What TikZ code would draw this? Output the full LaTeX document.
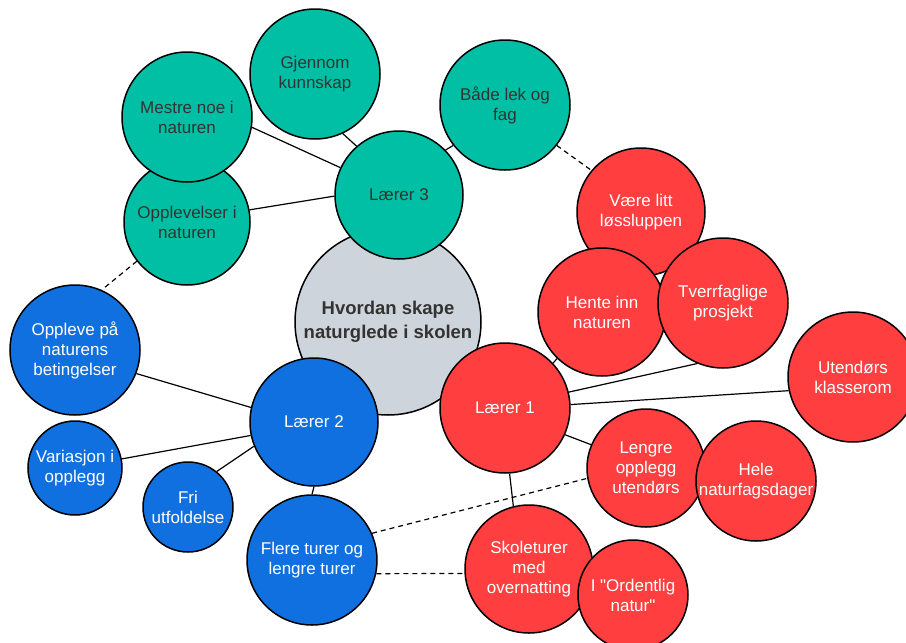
\documentclass[tikz,border=0pt]{standalone}
\usepackage{fontspec}
\setmainfont{Liberation Sans}[Ligatures=TeXOff]
\definecolor{teal1}{HTML}{00BFA5}
\definecolor{blue1}{HTML}{1170E0}
\definecolor{red1}{HTML}{FF3E40}
\definecolor{grey1}{HTML}{CED4DC}
\definecolor{dark1}{HTML}{333333}
\tikzset{
  bub/.style={circle, draw=black, line width=1.5pt, inner sep=0pt, align=center,
    font=\fontsize{17}{20}\selectfont, minimum size=#1},
  tbub/.style={bub=#1, fill=teal1, text=dark1},
  bbub/.style={bub=#1, fill=blue1, text=white},
  rbub/.style={bub=#1, fill=red1, text=white},
  link/.style={draw=black, line width=1.2pt},
  dlink/.style={draw=black, line width=1.2pt, dash pattern=on 5pt off 4pt}
}
\begin{document}
\begin{tikzpicture}[x=1pt,y=-1pt]
\useasboundingbox (0,0) rectangle (906,643);
% center
\node[bub=186pt, fill=grey1, text=dark1, font=\fontsize{18.5}{24}\selectfont\bfseries] (c) at (388,322) {Hvordan skape\\naturglede i skolen};
% teacher 3 group
\node[tbub=128pt] (l3) at (399,195) {Lærer 3};
\node[tbub=130pt] (gj) at (315,74) {Gjennom\\kunnskap};
\node[tbub=126pt] (op) at (187,222) {Opplevelser i\\naturen};
\node[tbub=130pt] (me) at (187,117) {Mestre noe i\\naturen};
\node[tbub=130pt] (bl) at (505,105) {Både lek og\\fag};
% teacher 2 group
\node[bbub=128pt] (l2) at (314,422) {Lærer 2};
\node[bbub=130pt] (ob) at (75,350) {Oppleve på\\naturens\\betingelser};
\node[bbub=94pt] (va) at (75,468) {Variasjon i\\opplegg};
\node[bbub=90pt] (fr) at (188,507) {Fri\\utfoldelse};
\node[bbub=130pt] (fl) at (312,560) {Flere turer og\\lengre turer};
% teacher 1 group
\node[rbub=130pt] (l1) at (505,408) {Lærer 1};
\node[rbub=128pt] (vl) at (641,212) {Være litt\\løssluppen};
\node[rbub=128pt] (hi) at (602,312) {Hente inn\\naturen};
\node[rbub=130pt] (tv) at (723,303) {Tverrfaglige\\prosjekt};
\node[rbub=130pt] (ut) at (853,377) {Utendørs\\klasserom};
\node[rbub=118pt] (lo) at (646,468) {Lengre\\opplegg\\utendørs};
\node[rbub=120pt] (hn) at (756,481) {Hele\\naturfagsdager};
\node[rbub=128pt] (sk) at (529,569) {Skoleturer\\med\\overnatting};
\node[rbub=110pt] (io) at (633,595) {I "Ordentlig\\natur"};
% connectors
\draw[link] (l3.131) -- (gj.295);
\draw[link] (l3.155) -- (me.351);
\draw[link] (l3.181) -- (op.11);
\draw[link] (l3.44) -- (bl.218);
\draw[dlink] (bl.322) -- (vl.140);
\draw[dlink] (op.218) -- (ob.66);
\draw[link] (l1.43) -- (hi.226);
\draw[link] (l1.14) -- (tv.247);
\draw[link] (l1.3) -- (ut.192);
\draw[link] (l1.336) -- (lo.157);
\draw[link] (l1.274) -- (sk.104);
\draw[dlink] (fl.24) -- (lo.190);
\draw[dlink] (fl.348) -- (sk.184);
\draw[link] (l2.167) -- (ob.339);
\draw[link] (l2.192) -- (va.11);
\draw[link] (l2.202) -- (fr.51);
\draw[link] (l2.270) -- (fl.90);
\end{tikzpicture}
\end{document}
